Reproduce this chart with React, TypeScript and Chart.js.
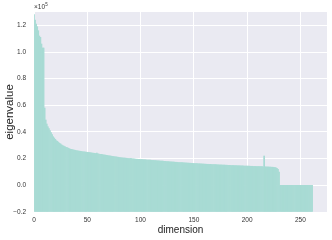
import React, { useEffect, useRef } from 'react';
import { Chart, registerables } from 'chart.js';
Chart.register(...registerables);

// eigenvalues in units of 1e5, one per dimension (index = dimension)
const eigenvalues = [
  1.28, 1.24, 1.21, 1.19, 1.16, 1.12, 1.11, 1.06, 1.03, 1.03,
  0.58, 0.49, 0.46, 0.44, 0.425, 0.41, 0.395, 0.38, 0.365, 0.355,
  0.345, 0.335, 0.33, 0.322, 0.315, 0.31, 0.303, 0.298, 0.294, 0.29,
  0.285, 0.283, 0.279, 0.275, 0.272, 0.27, 0.268, 0.266, 0.264, 0.262,
  0.26, 0.259, 0.257, 0.256, 0.255, 0.254, 0.252, 0.251, 0.25, 0.249,
  0.248, 0.247, 0.246, 0.245, 0.243, 0.242, 0.241, 0.24, 0.239, 0.242,
  0.237, 0.235, 0.233, 0.232, 0.231, 0.229, 0.228, 0.227, 0.225, 0.224,
  0.222, 0.221, 0.22, 0.218, 0.217, 0.216, 0.214, 0.213, 0.212, 0.211,
  0.209, 0.208, 0.207, 0.206, 0.205, 0.205, 0.204, 0.203, 0.202, 0.201,
  0.2, 0.203, 0.199, 0.198, 0.198, 0.197, 0.196, 0.196, 0.195, 0.195,
  0.194, 0.194, 0.193, 0.192, 0.192, 0.191, 0.19, 0.19, 0.189, 0.189,
  0.188, 0.187, 0.187, 0.186, 0.186, 0.185, 0.184, 0.184, 0.183, 0.182,
  0.182, 0.181, 0.18, 0.18, 0.179, 0.178, 0.178, 0.177, 0.176, 0.176,
  0.175, 0.175, 0.174, 0.173, 0.173, 0.172, 0.171, 0.171, 0.17, 0.17,
  0.169, 0.169, 0.168, 0.168, 0.167, 0.167, 0.166, 0.166, 0.165, 0.165,
  0.164, 0.164, 0.163, 0.163, 0.162, 0.162, 0.161, 0.161, 0.16, 0.16,
  0.159, 0.159, 0.158, 0.158, 0.157, 0.157, 0.157, 0.156, 0.156, 0.155,
  0.155, 0.155, 0.154, 0.154, 0.153, 0.153, 0.153, 0.152, 0.152, 0.152,
  0.151, 0.151, 0.15, 0.15, 0.15, 0.149, 0.149, 0.149, 0.148, 0.148,
  0.148, 0.147, 0.147, 0.147, 0.146, 0.146, 0.146, 0.145, 0.145, 0.145,
  0.144, 0.144, 0.144, 0.143, 0.143, 0.143, 0.142, 0.142, 0.142, 0.141,
  0.141, 0.141, 0.14, 0.14, 0.14, 0.139, 0.22, 0.139, 0.138, 0.138,
  0.138, 0.137, 0.137, 0.136, 0.136, 0.135, 0.134, 0.132, 0.128, 0.12,
  0.1, 0, 0, 0, 0, 0, 0, 0, 0, 0,
  0, 0, 0, 0, 0, 0, 0, 0, 0, 0,
  0, 0, 0, 0, 0, 0, 0, 0, 0, 0,
  0, 0,
];

const xTickValues = [0, 50, 100, 150, 200, 250];
const yTickValues = [-0.2, 0.0, 0.2, 0.4, 0.6, 0.8, 1.0, 1.2];
const xRange = [0, 275];
const yRange = [-0.2, 1.3];
const yExponent = '5';
const xTitle = 'dimension';
const yTitle = 'eigenvalue';

const FONT = "'Liberation Sans', Arial, sans-serif";

export default function App() {
  const ref = useRef<HTMLCanvasElement>(null);

  useEffect(() => {
    const bgPlugin = {
      id: 'bg',
      beforeDraw(chart: any) {
        const { ctx, chartArea: a } = chart;
        ctx.save();
        ctx.fillStyle = '#EAEAF2';
        ctx.fillRect(a.left, a.top, a.right - a.left, a.bottom - a.top);
        ctx.restore();
      },
    };
    const expoPlugin = {
      id: 'expo',
      afterDraw(chart: any) {
        const { ctx, chartArea: a } = chart;
        ctx.save();
        ctx.fillStyle = '#333';
        ctx.textBaseline = 'alphabetic';
        ctx.textAlign = 'left';
        ctx.font = `6.5px ${FONT}`;
        const base = '\u00d710';
        ctx.fillText(base, a.left, a.top - 3);
        const w = ctx.measureText(base).width;
        ctx.font = `4.5px ${FONT}`;
        ctx.fillText(yExponent, a.left + w + 0.3, a.top - 6);
        ctx.restore();
      },
    };

    const chart = new Chart(ref.current!, {
      type: 'bar',
      data: {
        datasets: [
          {
            data: eigenvalues.map((v, i) => ({ x: i, y: v })),
            backgroundColor: '#a8dbd4',
            borderWidth: 0,
            barPercentage: 1,
            categoryPercentage: 1,
            base: yRange[0],
          } as any,
        ],
      },
      options: {
        animation: false,
        responsive: false,
        events: [],
        layout: { padding: { top: 12, right: 5, left: 0, bottom: 0 } },
        plugins: { legend: { display: false }, tooltip: { enabled: false } },
        scales: {
          x: {
            type: 'linear',
            min: xRange[0],
            max: xRange[1],
            offset: false,
            grid: { color: '#ffffff', lineWidth: 1, drawTicks: false, offset: false },
            border: { display: false },
            ticks: {
              color: '#333',
              font: { family: FONT, size: 6.5 },
              padding: 4,
              maxRotation: 0,
              callback: (v: any) => String(v),
            },
            afterBuildTicks: (s: any) => {
              s.ticks = xTickValues.map((v) => ({ value: v }));
            },
            afterFit: (s: any) => {
              s.height = 28;
            },
            title: {
              display: true,
              text: xTitle,
              color: '#222',
              font: { family: FONT, size: 10 },
              padding: { top: 0, bottom: 4 },
            },
          } as any,
          y: {
            type: 'linear',
            min: yRange[0],
            max: yRange[1],
            grid: { color: '#ffffff', lineWidth: 1, drawTicks: false },
            border: { display: false },
            ticks: {
              color: '#333',
              font: { family: FONT, size: 6.5 },
              padding: 8,
              callback: (v: any) => (v < 0 ? '\u2212' : '') + Math.abs(v).toFixed(1),
            },
            afterBuildTicks: (s: any) => {
              s.ticks = yTickValues.map((v) => ({ value: v }));
            },
            afterFit: (s: any) => {
              s.width = 34;
            },
            title: {
              display: true,
              text: yTitle,
              color: '#222',
              font: { family: FONT, size: 11.5 },
              padding: { top: 2.5, bottom: 0 },
            },
          } as any,
        },
      },
      plugins: [bgPlugin, expoPlugin],
    });
    return () => chart.destroy();
  }, []);

  return (
    <div style={{ position: 'fixed', left: 0, top: 0, width: 332, height: 240, background: '#fff' }}>
      <canvas ref={ref} width={332} height={240} style={{ display: 'block' }} />
    </div>
  );
}
